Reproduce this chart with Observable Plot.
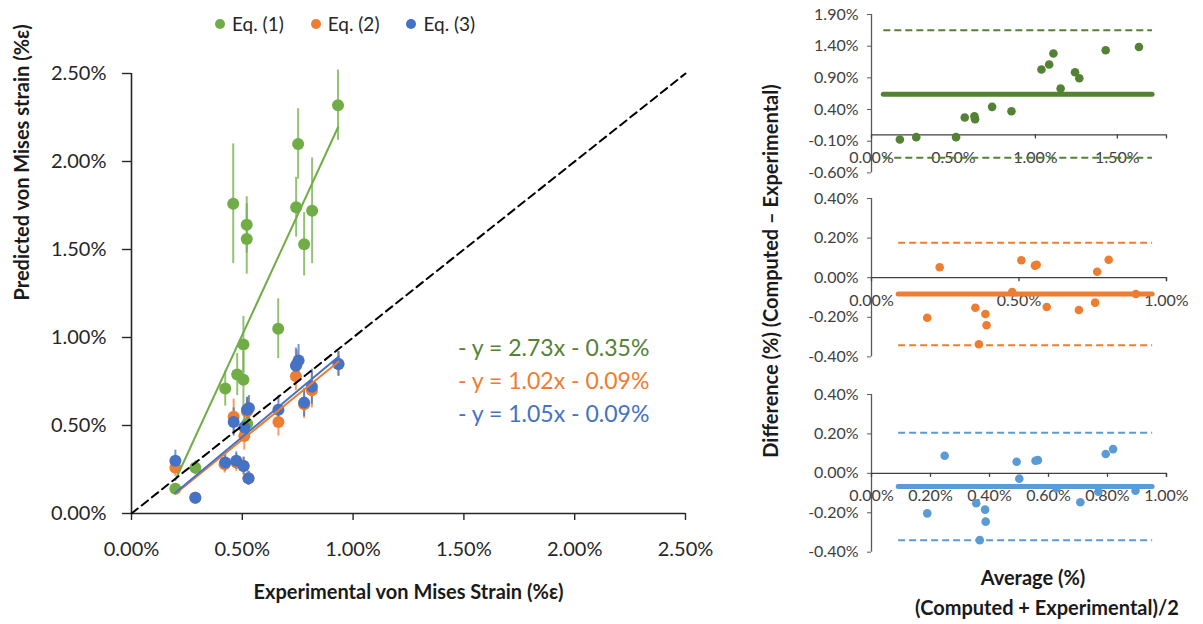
<!DOCTYPE html>
<html>
<head>
<meta charset="utf-8">
<script src="https://cdn.jsdelivr.net/npm/d3@7"></script>
<script src="https://cdn.jsdelivr.net/npm/@observablehq/plot@0.6"></script>
<style>
  html, body { margin: 0; padding: 0; background: #fff; }
  body { font-family: Lato, "Open Sans", sans-serif; }
  #page { position: relative; width: 1203px; height: 624px; overflow: hidden; }
  .legend { display: flex; font-size: 19px; color: #262626; white-space: nowrap; }
  .legend .item { display: flex; align-items: center; margin-right: 27px; }
  .legend .sw { width: 10px; height: 10px; border-radius: 50%; margin-right: 7px; }
  .eq { font-size: 23px; white-space: nowrap; line-height: 1; }
  .title { font-weight: bold; font-size: 20px; color: #1a1a1a; white-space: nowrap; }
</style>
</head>
<body>
<div id="page"></div>
<script>
// ---------------- Data ----------------
const seriesNames = ["Eq. (1)", "Eq. (2)", "Eq. (3)"];
const seriesColors = ["#70ad47", "#ed7d31", "#4472c4"];

// Left chart: Experimental vs Predicted von Mises strain (%)
const expEq1  = [0.198, 0.288, 0.423, 0.459, 0.477, 0.505, 0.505, 0.520, 0.520, 0.522, 0.662, 0.743, 0.752, 0.779, 0.815, 0.932];
const predEq1 = [0.14, 0.26, 0.71, 1.76, 0.79, 0.96, 0.76, 1.64, 1.56, 0.51, 1.05, 1.74, 2.10, 1.53, 1.72, 2.32];
const errEq1  = [0.03, 0.04, 0.10, 0.34, 0.12, 0.16, 0.16, 0.16, 0.20, 0.10, 0.17, 0.17, 0.20, 0.18, 0.30, 0.20];

const expEq2  = [0.198, 0.288, 0.420, 0.461, 0.473, 0.506, 0.509, 0.521, 0.524, 0.528, 0.663, 0.742, 0.746, 0.779, 0.814, 0.934];
const predEq2 = [0.26, 0.09, 0.28, 0.55, 0.29, 0.27, 0.44, 0.58, 0.59, 0.20, 0.52, 0.78, 0.85, 0.62, 0.70, 0.85];
const errEq2  = [0.05, 0.03, 0.05, 0.10, 0.05, 0.05, 0.08, 0.07, 0.07, 0.04, 0.08, 0.08, 0.08, 0.08, 0.10, 0.07];

const expEq3  = [0.198, 0.288, 0.423, 0.461, 0.473, 0.506, 0.509, 0.521, 0.528, 0.530, 0.663, 0.742, 0.754, 0.779, 0.814, 0.934];
const predEq3 = [0.30, 0.09, 0.29, 0.52, 0.30, 0.27, 0.49, 0.59, 0.20, 0.60, 0.59, 0.84, 0.87, 0.63, 0.72, 0.85];
const errEq3  = [0.06, 0.03, 0.05, 0.08, 0.05, 0.05, 0.07, 0.07, 0.04, 0.07, 0.08, 0.10, 0.09, 0.08, 0.10, 0.07];

// Linear fits shown on the chart
const fitSlope = [2.73, 1.02, 1.05];
const fitIntercept = [-0.35, -0.09, -0.09];

// Axis ticks
const leftTicks = [0, 0.5, 1.0, 1.5, 2.0, 2.5];

// Bland-Altman panels: average (%) and difference (%)
const baAvg1  = [0.173, 0.273, 0.516, 0.569, 0.628, 0.632, 0.736, 0.854, 1.037, 1.084, 1.110, 1.154, 1.242, 1.268, 1.429, 1.632];
const baDiff1 = [-0.073, -0.036, -0.036, 0.274, 0.295, 0.248, 0.442, 0.374, 1.032, 1.110, 1.284, 0.732, 0.989, 0.894, 1.336, 1.388];
const baStats1 = {mean: 0.64, upper: 1.65, lower: -0.36, from: 0.075, to: 1.715};

const baAvg2  = [0.231, 0.189, 0.352, 0.386, 0.390, 0.364, 0.477, 0.508, 0.554, 0.560, 0.594, 0.703, 0.758, 0.765, 0.804, 0.896];
const baDiff2 = [0.053, -0.202, -0.152, -0.183, -0.240, -0.336, -0.072, 0.088, 0.061, 0.065, -0.148, -0.163, -0.126, 0.030, 0.091, -0.082];
const baStats2 = {mean: -0.082, upper: 0.177, lower: -0.341, from: 0.092, to: 0.953};

const baAvg3  = [0.248, 0.189, 0.355, 0.385, 0.387, 0.367, 0.492, 0.501, 0.556, 0.564, 0.627, 0.708, 0.769, 0.794, 0.819, 0.895];
const baDiff3 = [0.089, -0.203, -0.152, -0.184, -0.245, -0.339, 0.059, -0.027, 0.064, 0.067, -0.076, -0.147, -0.093, 0.098, 0.123, -0.088];
const baStats3 = {mean: -0.067, upper: 0.206, lower: -0.339, from: 0.092, to: 0.953};

const baColors = ["#548235", "#ed7d31", "#5b9bd5"];
const baYTicks1 = [1.9, 1.4, 0.9, 0.4, -0.1, -0.6];
const baYTicks23 = [0.4, 0.2, 0.0, -0.2, -0.4];
const baXTicks1 = [0, 0.5, 1.0, 1.5];
const baXTicks2 = [0, 0.5, 1.0];
const baXTicks3 = [0, 0.2, 0.4, 0.6, 0.8, 1.0];

// ---------------- Build ----------------
const page = document.getElementById("page");
const pct = d => (Math.abs(d) < 1e-9 ? 0 : d).toFixed(2) + "%";
const FONT = "Lato, 'Open Sans', sans-serif";

function place(el, left, top) {
  el.style.position = "absolute";
  el.style.left = left + "px";
  el.style.top = top + "px";
  page.appendChild(el);
  return el;
}

// Long-format tables built from the arrays
const exps = [expEq1, expEq2, expEq3], preds = [predEq1, predEq2, predEq3], errs = [errEq1, errEq2, errEq3];
const points = [];
seriesNames.forEach((s, k) => exps[k].forEach((x, i) => points.push({s, k, x, y: preds[k][i], e: errs[k][i]})));
const fits = [];
seriesNames.forEach((s, k) => {
  const x0 = d3.min(exps[k]), x1 = d3.max(exps[k]);
  fits.push({s, k, x: x0, y: fitSlope[k] * x0 + fitIntercept[k]});
  fits.push({s, k, x: x1, y: fitSlope[k] * x1 + fitIntercept[k]});
});

const left = Plot.plot({
  width: 720, height: 624,
  marginLeft: 131, marginRight: 35, marginTop: 73, marginBottom: 111,
  x: {domain: [0, 2.5]},
  y: {domain: [0, 2.5]},
  style: {fontFamily: FONT, fontSize: "20px", color: "#262626", background: "transparent", overflow: "visible"},
  marks: [
    Plot.axisX({ticks: leftTicks, tickFormat: pct, tickSize: 7, tickPadding: 21, fontSize: 20, strokeWidth: 1.4, label: null}),
    Plot.axisY({ticks: leftTicks, tickFormat: pct, tickSize: 9, tickPadding: 16, fontSize: 20, strokeWidth: 1.4, label: null}),
    Plot.ruleY([0], {stroke: "#262626", strokeWidth: 1.6}),
    Plot.ruleX([0], {stroke: "#262626", strokeWidth: 1.6}),
    Plot.ruleX(points, {x: "x", y1: d => d.y - d.e, y2: d => d.y + d.e, stroke: d => seriesColors[d.k], strokeWidth: 2, strokeOpacity: 0.75}),
    Plot.dot(points, {x: "x", y: "y", r: 6, fill: d => seriesColors[d.k], stroke: "none"}),
    Plot.line(fits, {x: "x", y: "y", z: "s", stroke: d => seriesColors[d.k], strokeWidth: 2}),
    Plot.line([{x: 0, y: 0}, {x: 2.5, y: 2.5}], {x: "x", y: "y", stroke: "#000", strokeWidth: 2, strokeDasharray: "8,5"}),
    Plot.text(["Experimental von Mises Strain (%ε)"], {frameAnchor: "bottom", dy: 85, fontWeight: "bold", fontSize: 20, fill: "#1a1a1a"}),
    Plot.text(["Predicted von Mises strain (%ε)"], {frameAnchor: "left", dx: -109, dy: 7, rotate: -90, fontWeight: "bold", fontSize: 20, fill: "#1a1a1a"})
  ]
});
place(left, 0, 0);

// Legend
const legend = document.createElement("div");
legend.className = "legend";
seriesNames.forEach((s, k) => {
  const it = document.createElement("div");
  it.className = "item";
  it.innerHTML = `<span class="sw" style="background:${seriesColors[k]}"></span><span>${s}</span>`;
  legend.appendChild(it);
});
place(legend, 215, 12);

// Equation labels
const eqColors = ["#548235", "#ed7d31", "#4472c4"];
const eqTops = [336, 369, 402];
fitSlope.forEach((m, k) => {
  const d = document.createElement("div");
  d.className = "eq";
  d.style.color = eqColors[k];
  d.textContent = `- y = ${m.toFixed(2)}x - ${Math.abs(fitIntercept[k]).toFixed(2)}%`;
  place(d, 458, eqTops[k]);
});

// Bland-Altman panels
function baPanel(avg, diff, st, color, yDomain, yTicks, xDomain, xTicks, frameTop, frameBottom) {
  const h = frameBottom - frameTop + 28;
  const fh = frameBottom - frameTop;
  const tickLen = 4 * (yDomain[1] - yDomain[0]) / fh;
  const idx = d3.range(avg.length);
  const p = Plot.plot({
    width: 413, height: h,
    marginLeft: 81, marginRight: 37, marginTop: 14, marginBottom: 14,
    x: {domain: xDomain, axis: null},
    y: {domain: yDomain},
    style: {fontFamily: FONT, fontSize: "16px", color: "#404040", background: "transparent", overflow: "visible"},
    marks: [
      Plot.axisY({ticks: yTicks, tickFormat: pct, tickSize: 4, tickPadding: 9, fontSize: 16, stroke: "#595959", label: null}),
      Plot.ruleX([0], {y1: yDomain[0], y2: yDomain[1], stroke: "#595959", strokeWidth: 1.3}),
      Plot.text(xTicks, {x: d => d, y: 0, dy: 23, text: pct, fontSize: 16, fill: "#404040"}),
      Plot.ruleY([0], {x1: xDomain[0], x2: xDomain[1], stroke: "#404040", strokeWidth: 1.3}),
      Plot.ruleX(xTicks.concat([xDomain[1]]), {x: d => d, y1: 0, y2: -tickLen, stroke: "#404040", strokeWidth: 1.3}),
      Plot.ruleY([st.upper, st.lower], {x1: st.from, x2: st.to, stroke: color, strokeWidth: 2, strokeDasharray: "7,4"}),
      Plot.ruleY([st.mean], {x1: st.from, x2: st.to, stroke: color, strokeWidth: 5, strokeLinecap: "round"}),
      Plot.dot(idx, {x: i => avg[i], y: i => diff[i], r: 4.3, fill: color, stroke: "none"})
    ]
  });
  place(p, 790, frameTop - 14);
}
baPanel(baAvg1, baDiff1, baStats1, baColors[0], [-0.6, 1.9], baYTicks1, [0, 1.8], baXTicks1, 14.3, 172.7);
baPanel(baAvg2, baDiff2, baStats2, baColors[1], [-0.4, 0.4], baYTicks23, [0, 1.0], baXTicks2, 198.3, 356.7);
baPanel(baAvg3, baDiff3, baStats3, baColors[2], [-0.4, 0.4], baYTicks23, [0, 1.0], baXTicks3, 394, 551.7);

// Right-side titles
const ry = document.createElement("div");
ry.className = "title";
ry.textContent = "Difference (%) (Computed – Experimental)";
ry.style.transformOrigin = "0 0";
place(ry, 758, 0);
const w = ry.getBoundingClientRect().width;
ry.style.transform = `translate(0px, ${271 + w / 2}px) rotate(-90deg)`;

function centered(text, cx, cy) {
  const d = document.createElement("div");
  d.className = "title";
  d.textContent = text;
  place(d, 0, 0);
  const r = d.getBoundingClientRect();
  d.style.left = (cx - r.width / 2) + "px";
  d.style.top = (cy - r.height / 2) + "px";
}
centered("Average (%)", 1033, 577);
centered("(Computed + Experimental)/2", 1047, 607);
</script>
</body>
</html>
